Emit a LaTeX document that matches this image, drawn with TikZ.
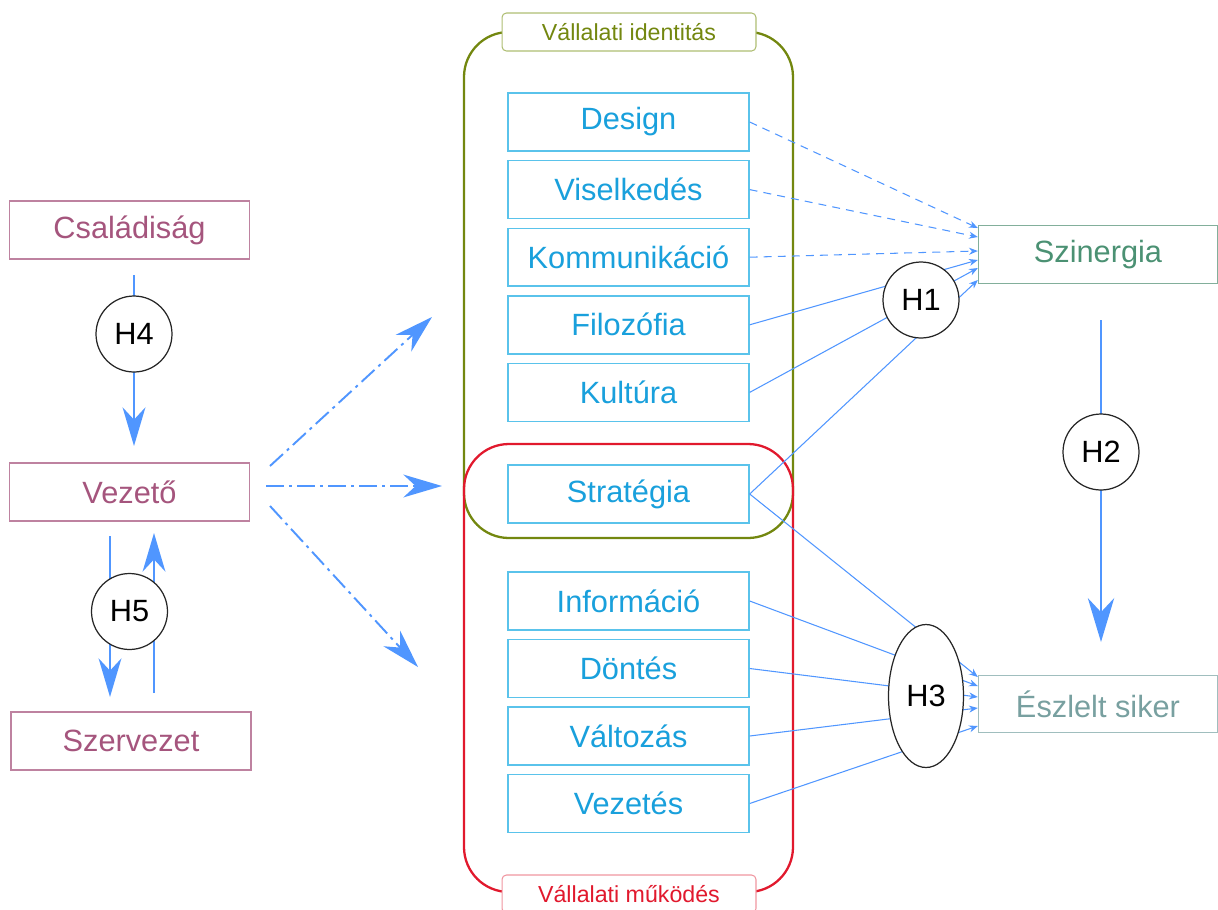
\documentclass[tikz,border=0pt]{standalone}
\usepackage{fontspec}
\setmainfont{Liberation Sans}
\usetikzlibrary{arrows.meta,shapes.geometric,calc}
\definecolor{mauvetxt}{RGB}{165,85,125}
\definecolor{mauveln}{RGB}{190,130,160}
\definecolor{skytxt}{RGB}{25,160,220}
\definecolor{skyln}{RGB}{90,195,235}
\definecolor{olivecol}{RGB}{115,135,15}
\definecolor{oliveln}{RGB}{175,190,115}
\definecolor{redln}{RGB}{225,25,45}
\definecolor{redlab}{RGB}{240,150,160}
\definecolor{arrblue}{RGB}{80,150,255}
\definecolor{szintxt}{RGB}{75,145,115}
\definecolor{szinln}{RGB}{130,175,155}
\definecolor{esztxt}{RGB}{120,160,160}
\definecolor{eszln}{RGB}{160,190,190}
\begin{document}
\begin{tikzpicture}[x=0.02cm,y=-0.02cm,
  txt/.style={font=\fontsize{17.5}{21}\selectfont},
  leftbox/.style={txt,draw=mauveln,line width=0.8pt,text=mauvetxt,minimum width=4.8cm,minimum height=1.16cm,inner sep=0pt},
  itembox/.style={txt,draw=skyln,line width=0.8pt,text=skytxt,fill=white,minimum width=4.82cm,minimum height=1.16cm,inner sep=0pt},
  outbox/.style={txt,line width=0.8pt,minimum width=4.78cm,minimum height=1.15cm,inner sep=0pt},
  hyp/.style={txt,circle,draw=black!85,line width=0.7pt,fill=white,minimum size=1.52cm,inner sep=0pt},
  grp/.style={rounded corners=0.9cm,line width=1.3pt},
  grplabel/.style={font=\fontsize{13.2}{16}\selectfont,fill=white,rounded corners=2.5pt,line width=0.6pt,minimum width=5.08cm,minimum height=0.76cm,inner sep=0pt},
  bigarrow/.style={draw=arrblue,line width=1.1pt,-{Stealth[length=22pt,width=13pt,inset=7pt]}},
  hugearrow/.style={draw=arrblue,line width=1.1pt,-{Stealth[length=25pt,width=15pt,inset=8pt]}},
  dashdotarrow/.style={bigarrow,dash pattern=on 10pt off 3pt on 1.7pt off 3pt},
  thinarrow/.style={draw=arrblue,line width=0.6pt,-{Stealth[length=5pt,width=4pt]}},
  dasharrow/.style={thinarrow,dash pattern=on 4.5pt off 3.5pt},
]
\useasboundingbox (0,0) rectangle (1218,910);

% left column
\node[leftbox] (fam) at (129.5,230) {Családiság};
\node[leftbox] (lead) at (129.5,492) {Vezető};
\node[leftbox] (org) at (131,741) {Szervezet};

% groups
\draw[grp,draw=olivecol] (464,32) rectangle (793,538);
\draw[grp,draw=redln] (464,444) rectangle (793,892);
\node[grplabel,draw=oliveln,text=olivecol] (idlab) at (629,32) {Vállalati identitás};
\node[grplabel,draw=redlab,text=redln] (oplab) at (629,894) {Vállalati működés};

% items
\node[itembox] (design) at (628.5,122) {Design};
\node[itembox] (visel) at (628.5,189.6) {Viselkedés};
\node[itembox] (komm) at (628.5,257.2) {Kommunikáció};
\node[itembox] (filo) at (628.5,324.8) {Filozófia};
\node[itembox] (kult) at (628.5,392.4) {Kultúra};
\node[itembox] (strat) at (628.5,494) {Stratégia};
\node[itembox] (info) at (628.5,601) {Információ};
\node[itembox] (dont) at (628.5,668.5) {Döntés};
\node[itembox] (valt) at (628.5,736) {Változás};
\node[itembox] (vezet) at (628.5,803.5) {Vezetés};

% outcomes
\node[outbox,draw=szinln,text=szintxt] (szin) at (1098,254.5) {Szinergia};
\node[outbox,draw=eszln,text=esztxt] (esz) at (1098,704) {Észlelt siker};

% connectors to Szinergia
\draw[dasharrow] (design.east) -- ($(szin.west)+(0,-26.5)$);
\draw[dasharrow] (visel.east) -- ($(szin.west)+(0,-17.5)$);
\draw[dasharrow] (komm.east) -- ($(szin.west)+(0,-3.5)$);
\draw[thinarrow] (filo.east) -- ($(szin.west)+(0,5.5)$);
\draw[thinarrow] (kult.east) -- ($(szin.west)+(0,13.5)$);
\draw[thinarrow] (strat.east) -- ($(szin.west)+(0,25.5)$);

% connectors to Eszlelt siker
\draw[thinarrow] (strat.east) -- ($(esz.west)+(0,-27)$);
\draw[thinarrow] (info.east) -- ($(esz.west)+(0,-18)$);
\draw[thinarrow] (dont.east) -- ($(esz.west)+(0,-7)$);
\draw[thinarrow] (valt.east) -- ($(esz.west)+(0,4)$);
\draw[thinarrow] (vezet.east) -- ($(esz.west)+(0,22)$);

% big arrows
\coordinate (h2top) at (1101,320);
\coordinate (h2tip) at (1101,642);
\draw[hugearrow] (h2top) -- (h2tip);
\coordinate (h4top) at (134,275);
\coordinate (h4tip) at (134,446);
\draw[bigarrow] (h4top) -- (h4tip);
\coordinate (h5atop) at (110,536);
\coordinate (h5atip) at (110,697);
\draw[bigarrow] (h5atop) -- (h5atip);
\coordinate (h5bbot) at (154,693);
\coordinate (h5btip) at (154,533);
\draw[bigarrow] (h5bbot) -- (h5btip);

% dash-dot arrows from Vezeto
\coordinate (dd1s) at (270,466);
\coordinate (dd1t) at (432,317);
\coordinate (dd2s) at (266,486);
\coordinate (dd2t) at (442,486);
\coordinate (dd3s) at (270,506);
\coordinate (dd3t) at (418,667);
\draw[dashdotarrow] (dd1s) -- (dd1t);
\draw[dashdotarrow] (dd2s) -- (dd2t);
\draw[dashdotarrow] (dd3s) -- (dd3t);

% hypotheses
\node[hyp] (h1) at (921,300) {H1};
\node[hyp] (h2) at (1101,452) {H2};
\node[hyp,ellipse,minimum width=1.5cm,minimum height=2.86cm] (h3) at (926,696) {H3};
\node[hyp] (h4) at (134,334) {H4};
\node[hyp] (h5) at (129.5,611.5) {H5};
\end{tikzpicture}
\end{document}
